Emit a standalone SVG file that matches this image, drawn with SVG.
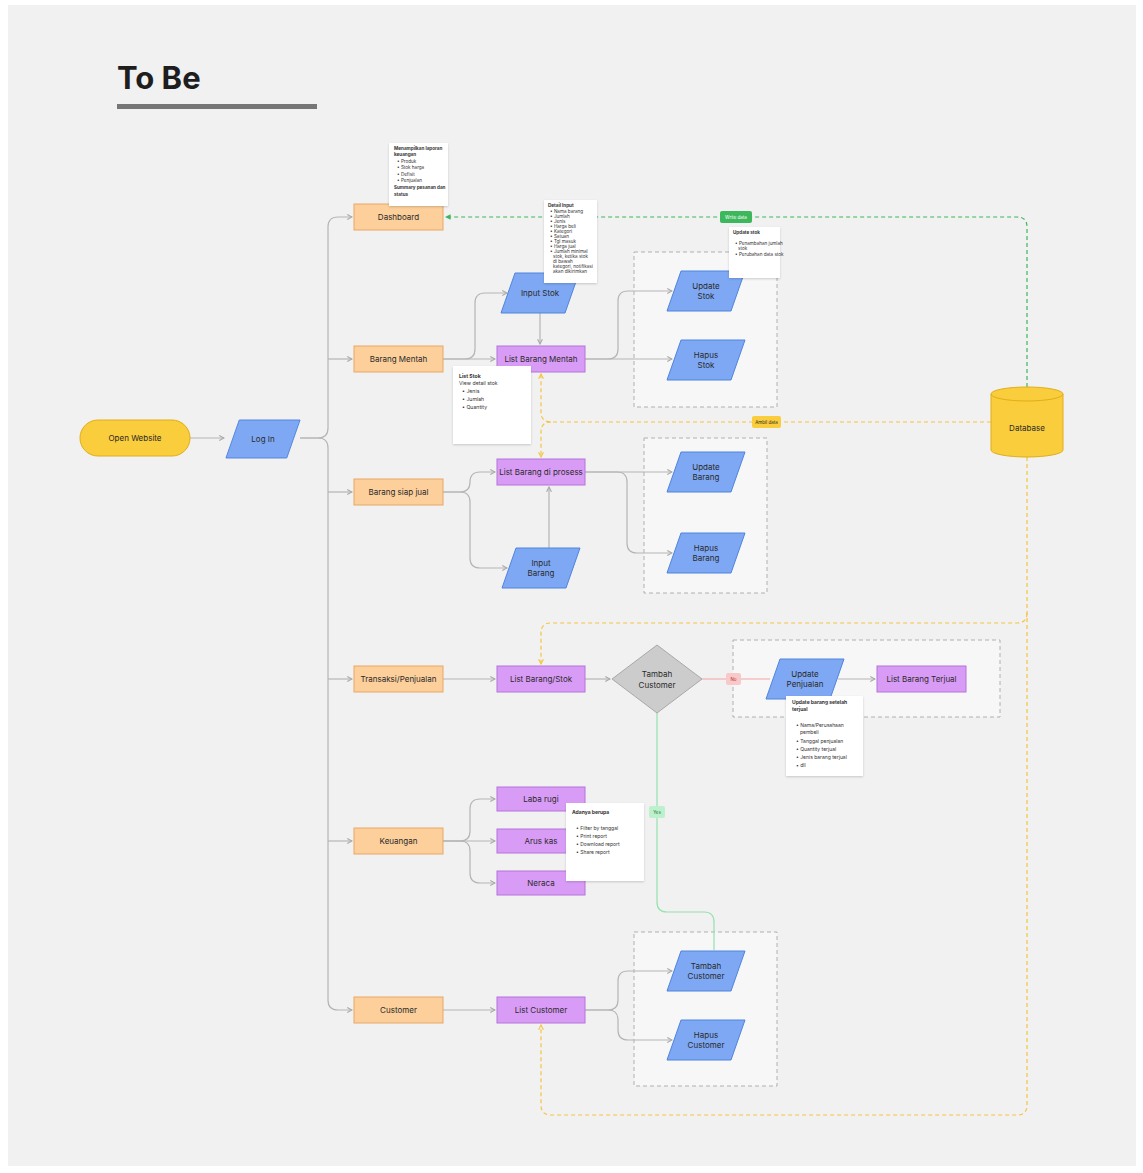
<svg xmlns="http://www.w3.org/2000/svg" width="1143" height="1173" viewBox="0 0 1143 1173">
<defs>
<style>
.t{font-family:Inter,"Liberation Sans",sans-serif;font-size:8px;fill:#2a2a2a;text-anchor:middle;dominant-baseline:central}
.n{font-family:Inter,"Liberation Sans",sans-serif;font-size:4.6px;fill:#333}
.nb{font-weight:700}
.or{fill:#fccf9b;stroke:#e7a866;stroke-width:1}
.pu{fill:#d99cf6;stroke:#b474d8;stroke-width:1}
.bl{fill:#7ea8f3;stroke:#4f84dc;stroke-width:1}
.yl{fill:#f9cd3c;stroke:#e1ae17;stroke-width:1}
.grp{fill:#f7f7f7;stroke:#b0b0b0;stroke-width:1;stroke-dasharray:4 3}
.note{fill:#ffffff;filter:url(#sh)}
.c{fill:none;stroke:#b5b5b5;stroke-width:1.2;marker-end:url(#ar)}
.cn{fill:none;stroke:#b5b5b5;stroke-width:1.2}
.yd{fill:none;stroke:#f6c444;stroke-width:1.2;stroke-dasharray:4 3}
.gd{fill:none;stroke:#3db75c;stroke-width:1.2;stroke-dasharray:4 3}
</style>
<marker id="ar" viewBox="0 0 10 10" refX="9" refY="5" markerWidth="6" markerHeight="6" orient="auto-start-reverse" markerUnits="userSpaceOnUse"><path d="M1,1 L9,5 L1,9" fill="none" stroke="#a8a8a8" stroke-width="1.8"/></marker>
<marker id="arg" viewBox="0 0 10 10" refX="9" refY="5" markerWidth="7" markerHeight="7" orient="auto-start-reverse" markerUnits="userSpaceOnUse"><path d="M1,1 L9,5 L1,9 Z" fill="#3db75c"/></marker>
<marker id="ary" viewBox="0 0 10 10" refX="9" refY="5" markerWidth="6" markerHeight="6" orient="auto-start-reverse" markerUnits="userSpaceOnUse"><path d="M1,1 L9,5 L1,9" fill="none" stroke="#f6c444" stroke-width="1.8"/></marker>
<filter id="sh" x="-20%" y="-20%" width="140%" height="140%"><feDropShadow dx="0" dy="1" stdDeviation="1.2" flood-color="#000" flood-opacity="0.18"/></filter>
<polygon id="para" points="-25,-20 39,-20 25,20 -39,20"/>
</defs>
<rect x="0" y="0" width="1143" height="1173" fill="#ffffff"/>
<rect x="8" y="5" width="1128" height="1161" fill="#f1f1f1"/>
<text x="117" y="89" font-family="Inter,'Liberation Sans',sans-serif" font-size="31" font-weight="700" fill="#1e1e1e">To Be</text>
<rect x="117" y="104" width="200" height="5" fill="#767676"/>

<g id="groups">
<rect class="grp" x="634" y="252" width="143" height="155"/>
<rect class="grp" x="644" y="438" width="123" height="155"/>
<rect class="grp" x="733" y="640" width="267" height="77"/>
<rect class="grp" x="634" y="932" width="143" height="154"/>
</g>

<g id="connectors">
<path class="c" d="M190,438 H224"/>
<path class="c" d="M300,438 H318 Q328,438 328,428 V227 Q328,217 338,217 H352"/>
<path class="c" d="M300,438 H318 Q328,438 328,448 V1000 Q328,1010 338,1010 H352"/>
<path class="c" d="M328,359 H352"/>
<path class="c" d="M328,492 H352"/>
<path class="c" d="M328,679 H352"/>
<path class="c" d="M328,841 H352"/>
<path class="c" d="M443,359 H495"/>
<path class="c" d="M443,359 H465 Q475,359 475,349 V303 Q475,293 485,293 H507"/>
<path class="c" d="M540,313 V344"/>
<path class="c" d="M585,359 H608 Q618,359 618,349 V301 Q618,291 628,291 H672"/>
<path class="c" d="M585,359 H672"/>
<path class="c" d="M443,492 H460 Q470,492 470,482 Q470,472 480,472 H495"/>
<path class="c" d="M443,492 H460 Q470,492 470,502 V558 Q470,568 480,568 H507"/>
<path class="c" d="M549,549 V487"/>
<path class="c" d="M585,472 H672"/>
<path class="c" d="M585,472 H617 Q627,472 627,482 V543 Q627,553 637,553 H672"/>
<path class="c" d="M443,679 H495"/>
<path class="c" d="M585,679 H610"/>
<path fill="none" stroke="#f4a3a3" stroke-width="1.2" d="M702,679 H770"/>
<path class="c" d="M838,679 H875"/>
<path fill="none" stroke="#94e2ad" stroke-width="1.2" d="M657,713 V902 Q657,912 667,912 H704 Q714,912 714,922 V950"/>
<path class="c" d="M443,841 H495"/>
<path class="c" d="M443,841 H460 Q470,841 470,831 V809 Q470,799 480,799 H495"/>
<path class="c" d="M443,841 H460 Q470,841 470,851 V873 Q470,883 480,883 H495"/>
<path class="c" d="M443,1010 H495"/>
<path class="c" d="M585,1010 H608 Q618,1010 618,1000 V981 Q618,971 628,971 H672"/>
<path class="c" d="M585,1010 H608 Q618,1010 618,1020 V1030 Q618,1040 628,1040 H672"/>
<path class="gd" marker-end="url(#arg)" d="M1027,387 V227 Q1027,217 1017,217 H445"/>
<path class="yd" marker-end="url(#ary)" d="M991,422 H551 Q541,422 541,412 V374"/>
<path class="yd" marker-end="url(#ary)" d="M551,422 Q541,422 541,432 V457"/>
<path class="yd" marker-end="url(#ary)" d="M1027,457 V1105 Q1027,1115 1017,1115 H551 Q541,1115 541,1105 V1025"/>
<path class="yd" marker-end="url(#ary)" d="M1027,613 Q1027,623 1017,623 H551 Q541,623 541,633 V664"/>
<rect x="720" y="211" width="32" height="12" rx="2" fill="#3db75c"/>
<text class="t" x="736" y="217" font-size="4.5" fill="#ffffff" style="fill:#ffffff;font-size:4.5px">Write data</text>
<rect x="752" y="416" width="29" height="12" rx="2" fill="#f9cd3c"/>
<text class="t" x="766.5" y="422" style="font-size:4.5px">Ambil data</text>
<rect x="726" y="673" width="15" height="12" rx="2" fill="#f8c9c9"/>
<text class="t" x="733.5" y="679" style="font-size:4.5px;fill:#c03030">No</text>
<rect x="649" y="806" width="16" height="12" rx="2" fill="#bdf0cc"/>
<text class="t" x="657" y="812" style="font-size:4.5px;fill:#1f7a3a">Yes</text>
</g>

<g id="open-website"><rect class="yl" x="80" y="420" width="110" height="36" rx="18"/><text class="t" x="135" y="438">Open Website</text></g>
<g id="log-in"><use href="#para" class="bl" transform="translate(263,439) scale(0.95,0.95)"/><text class="t" x="263" y="439">Log In</text></g>

<g id="dashboard"><rect class="or" x="354" y="204" width="89" height="26"/><text class="t" x="398.5" y="217">Dashboard</text></g>
<g id="barang-mentah"><rect class="or" x="354" y="346" width="89" height="26"/><text class="t" x="398.5" y="359">Barang Mentah</text></g>
<g id="barang-siap-jual"><rect class="or" x="354" y="479" width="89" height="26"/><text class="t" x="398.5" y="492">Barang siap jual</text></g>
<g id="transaksi"><rect class="or" x="354" y="666" width="89" height="26"/><text class="t" x="398.5" y="679">Transaksi/Penjualan</text></g>
<g id="keuangan"><rect class="or" x="354" y="828" width="89" height="26"/><text class="t" x="398.5" y="841">Keuangan</text></g>
<g id="customer"><rect class="or" x="354" y="997" width="89" height="26"/><text class="t" x="398.5" y="1010">Customer</text></g>

<g id="list-barang-mentah"><rect class="pu" x="497" y="346" width="88" height="26"/><text class="t" x="541" y="359">List Barang Mentah</text></g>
<g id="list-barang-di-prosess"><rect class="pu" x="497" y="459" width="88" height="26"/><text class="t" x="541" y="472">List Barang di prosess</text></g>
<g id="list-barang-stok"><rect class="pu" x="497" y="666" width="88" height="26"/><text class="t" x="541" y="679">List Barang/Stok</text></g>
<g id="laba-rugi"><rect class="pu" x="497" y="787" width="88" height="24"/><text class="t" x="541" y="799">Laba rugi</text></g>
<g id="arus-kas"><rect class="pu" x="497" y="829" width="88" height="24"/><text class="t" x="541" y="841">Arus kas</text></g>
<g id="neraca"><rect class="pu" x="497" y="871" width="88" height="24"/><text class="t" x="541" y="883">Neraca</text></g>
<g id="list-customer"><rect class="pu" x="497" y="997" width="88" height="26"/><text class="t" x="541" y="1010">List Customer</text></g>
<g id="list-barang-terjual"><rect class="pu" x="877" y="666" width="89" height="26"/><text class="t" x="921.5" y="679">List Barang Terjual</text></g>

<g id="input-stok"><use href="#para" class="bl" transform="translate(540,293)"/><text class="t" x="540" y="293">Input Stok</text></g>
<g id="update-stok"><use href="#para" class="bl" transform="translate(706,291)"/><text class="t" x="706" y="286">Update</text><text class="t" x="706" y="296">Stok</text></g>
<g id="hapus-stok"><use href="#para" class="bl" transform="translate(706,360)"/><text class="t" x="706" y="355">Hapus</text><text class="t" x="706" y="365">Stok</text></g>
<g id="update-barang"><use href="#para" class="bl" transform="translate(706,472)"/><text class="t" x="706" y="467">Update</text><text class="t" x="706" y="477">Barang</text></g>
<g id="hapus-barang"><use href="#para" class="bl" transform="translate(706,553)"/><text class="t" x="706" y="548">Hapus</text><text class="t" x="706" y="558">Barang</text></g>
<g id="input-barang"><use href="#para" class="bl" transform="translate(541,568)"/><text class="t" x="541" y="563">Input</text><text class="t" x="541" y="573">Barang</text></g>
<g id="update-penjualan"><use href="#para" class="bl" transform="translate(805,679)"/><text class="t" x="805" y="674">Update</text><text class="t" x="805" y="684">Penjualan</text></g>
<g id="tambah-customer-io"><use href="#para" class="bl" transform="translate(706,971)"/><text class="t" x="706" y="966">Tambah</text><text class="t" x="706" y="976">Customer</text></g>
<g id="hapus-customer"><use href="#para" class="bl" transform="translate(706,1040)"/><text class="t" x="706" y="1035">Hapus</text><text class="t" x="706" y="1045">Customer</text></g>

<g id="tambah-customer-decision"><polygon points="657,645 702,679 657,713 612,679" fill="#cccccc" stroke="#a9a9a9" stroke-width="1" stroke-linejoin="round"/><text class="t" x="657" y="674">Tambah</text><text class="t" x="657" y="685">Customer</text></g>

<g id="database"><path class="yl" d="M991,394 A36,7 0 0 1 1063,394 V450 A36,7 0 0 1 991,450 Z"/><path d="M991,394 A36,7 0 0 0 1063,394" fill="none" stroke="#e1ae17" stroke-width="1"/><text class="t" x="1027" y="428">Database</text></g>

<g id="note-dashboard"><rect class="note" x="389" y="143" width="59" height="63"/>
<text class="n nb" x="394" y="150">Menampilkan laporan</text>
<text class="n nb" x="394" y="156">keuangan</text>
<text class="n" x="397" y="163">•  Produk</text>
<text class="n" x="397" y="169">•  Stok harga</text>
<text class="n" x="397" y="176">•  Defisit</text>
<text class="n" x="397" y="182">•  Penjualan</text>
<text class="n nb" x="394" y="189">Summary pesanan dan</text>
<text class="n nb" x="394" y="196">status</text></g>

<g id="note-input-stok"><rect class="note" x="544" y="200" width="53" height="83"/>
<text class="n nb" x="548" y="207">Detail Input</text>
<text class="n" x="550" y="213">•  Nama barang</text>
<text class="n" x="550" y="218">•  Jumlah</text>
<text class="n" x="550" y="223">•  Jenis</text>
<text class="n" x="550" y="228">•  Harga beli</text>
<text class="n" x="550" y="233">•  Kategori</text>
<text class="n" x="550" y="238">•  Satuan</text>
<text class="n" x="550" y="243">•  Tgl masuk</text>
<text class="n" x="550" y="248">•  Harga jual</text>
<text class="n" x="550" y="253">•  Jumlah minimal</text>
<text class="n" x="553" y="258">stok, ketika stok</text>
<text class="n" x="553" y="263">di bawah</text>
<text class="n" x="553" y="268">kategori, notifikasi</text>
<text class="n" x="553" y="273">akan dikirimkan</text></g>

<g id="note-update-stok"><rect class="note" x="729" y="227" width="51" height="51"/>
<text class="n nb" x="733" y="234">Update stok</text>
<text class="n" x="735" y="245">•  Penambahan jumlah</text>
<text class="n" x="738" y="250">stok</text>
<text class="n" x="735" y="256">•  Perubahan data stok</text></g>

<g id="note-list-stok"><rect class="note" x="453" y="366" width="78" height="78"/>
<text class="n nb" x="459" y="378" style="font-size:5.2px">List Stok</text>
<text class="n" x="459" y="385" style="font-size:5.2px">View detail stok</text>
<text class="n" x="462" y="393" style="font-size:5.2px">•  Jenis</text>
<text class="n" x="462" y="401" style="font-size:5.2px">•  Jumlah</text>
<text class="n" x="462" y="409" style="font-size:5.2px">•  Quantity</text></g>

<g id="note-update-penjualan"><rect class="note" x="786" y="696" width="77" height="80"/>
<text class="n nb" x="792" y="704" style="font-size:5px">Update barang setelah</text>
<text class="n nb" x="792" y="711" style="font-size:5px">terjual</text>
<text class="n" x="796" y="727" style="font-size:5px">•  Nama/Perusahaan</text>
<text class="n" x="800" y="734" style="font-size:5px">pembeli</text>
<text class="n" x="796" y="743" style="font-size:5px">•  Tanggal penjualan</text>
<text class="n" x="796" y="751" style="font-size:5px">•  Quantity terjual</text>
<text class="n" x="796" y="759" style="font-size:5px">•  Jenis barang terjual</text>
<text class="n" x="796" y="767" style="font-size:5px">•  dll</text></g>

<g id="note-keuangan"><rect class="note" x="566" y="803" width="78" height="78"/>
<text class="n nb" x="572" y="814" style="font-size:5px">Adanya berupa</text>
<text class="n" x="576" y="830" style="font-size:5px">•  Filter by tanggal</text>
<text class="n" x="576" y="838" style="font-size:5px">•  Print report</text>
<text class="n" x="576" y="846" style="font-size:5px">•  Download report</text>
<text class="n" x="576" y="854" style="font-size:5px">•  Share report</text></g>
</svg>
